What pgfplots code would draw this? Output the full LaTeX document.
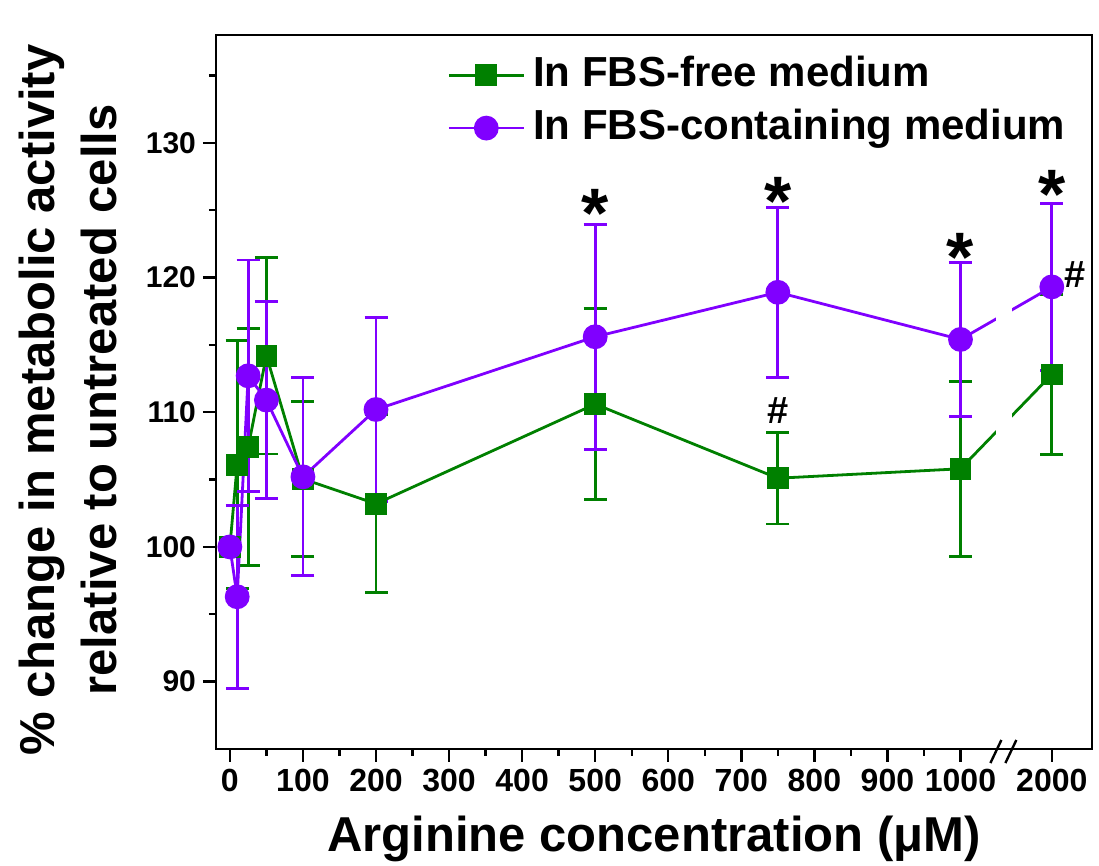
\documentclass[border=0pt]{standalone}
\usepackage{fontspec}
\setmainfont{Liberation Sans}
\usepackage{pgfplots}
\usepackage{pgfplotstable}
\pgfplotsset{compat=1.18}
\definecolor{fgreen}{RGB}{0,128,0}
\definecolor{fpurple}{RGB}{128,0,255}

% x = concentration (uM); the 2000 uM point sits after the axis break, drawn at position 1125
\pgfplotstableread{
x y e
0 100 0
10 106.1 9.2
25 107.4 8.8
50 114.2 7.3
100 105.05 5.75
200 103.2 6.6
500 110.6 7.1
750 105.1 3.4
1000 105.8 6.5
1125 112.8 5.95
}\freeT
\pgfplotstableread{
x y e
0 100 0
10 96.3 6.8
25 112.7 8.6
50 110.9 7.3
100 105.2 7.35
200 110.2 6.8
500 115.6 8.35
750 118.9 6.3
1000 115.4 5.7
1125 119.3 6.2
}\fbsT

\begin{document}
\begin{tikzpicture}
\begin{axis}[name=ax, scale only axis, width=438pt, height=357pt,
 xmin=-19, xmax=1180, ymin=85, ymax=138,
 axis line style={line width=1.2pt},
 tick style={line width=1.2pt, black},
 tick align=outside, xtick pos=left, ytick pos=left,
 major tick length=6.5pt, minor tick length=3.5pt,
 xtick={0,100,200,300,400,500,600,700,800,900,1000,1125},
 xticklabels={0,100,200,300,400,500,600,700,800,900,1000,2000},
 minor xtick={50,150,250,350,450,550,650,750,850,950},
 ytick={90,100,110,120,130}, minor ytick={95,105,115,125,135},
 /pgf/number format/assume math mode=true,
 xticklabel style={font=\fontsize{16}{16}\selectfont\bfseries},
 yticklabel style={font=\fontsize{15}{15}\selectfont\bfseries},
 xlabel={Arginine concentration (μM)},
 ylabel={\% change in metabolic activity\\relative to untreated cells},
 xlabel style={at={(axis description cs:0.5,-0.126)}, anchor=center, font=\fontsize{24.5}{29}\selectfont\bfseries},
 ylabel style={at={(axis description cs:-0.169,0.489)}, anchor=center, align=center, font=\fontsize{24.5}{31}\selectfont\bfseries},
 clip=false,
 legend cell align=left,
 legend image code/.code={\draw[mark repeat=2,mark phase=2,#1] plot coordinates {(0pt,0pt) (18.75pt,0pt) (37.5pt,0pt)};},
 legend style={at={(rel axis cs:0.2637,0.971)}, anchor=north west, draw=none, fill=none,
   inner sep=0pt, row sep=7.5pt, column sep=4pt,
   nodes={inner sep=0pt, text height=15pt, text depth=4pt},
   font=\fontsize{21}{21}\selectfont\bfseries},
]
\addplot[fgreen, line width=1.4pt, mark=square*, mark size=4.75pt,
  mark options={solid, fill=fgreen, draw=fgreen},
  error bars/.cd, y dir=both, y explicit,
  error bar style={line width=1.4pt, fgreen},
  error mark options={rotate=90, mark size=5.75pt, line width=1.4pt, fgreen}]
  table[x=x, y=y, y error=e] {\freeT};
\addlegendentry{In FBS-free medium}
\addplot[fpurple, line width=1.4pt, mark=*, mark size=5.5pt,
  mark options={solid, fill=fpurple, draw=fpurple},
  error bars/.cd, y dir=both, y explicit,
  error bar style={line width=1.4pt, fpurple},
  error mark options={rotate=90, mark size=5.75pt, line width=1.4pt, fpurple}]
  table[x=x, y=y, y error=e] {\fbsT};
\addlegendentry{In FBS-containing medium}

% gap in the lines at the axis break
\fill[white] (axis cs:1049,100) rectangle (axis cs:1071,124);
\draw[line width=1.2pt] (axis cs:1041,83.96) -- (axis cs:1056,85.67);
\draw[line width=1.2pt] (axis cs:1061.5,83.96) -- (axis cs:1076.5,85.67);

\node[anchor=north, inner sep=0pt, font=\fontsize{35}{35}\selectfont\bfseries] at (axis cs:500,126.6) {*};
\node[anchor=north, inner sep=0pt, font=\fontsize{35}{35}\selectfont\bfseries] at (axis cs:750,127.5) {*};
\node[anchor=north, inner sep=0pt, font=\fontsize{35}{35}\selectfont\bfseries] at (axis cs:1000,123.3) {*};
\node[anchor=north, inner sep=0pt, font=\fontsize{35}{35}\selectfont\bfseries] at (axis cs:1125,128.0) {*};
\node[inner sep=0pt, font=\fontsize{19}{19}\selectfont\bfseries] at (axis cs:750,110.1) {\#};
\node[inner sep=0pt, font=\fontsize{19}{19}\selectfont\bfseries] at (axis cs:1157,120.2) {\#};
\end{axis}
\pgfresetboundingbox
\path ([shift={(-108pt,-58.5pt)}]ax.south west) rectangle ([shift={(3.5pt,17.5pt)}]ax.north east);
\end{tikzpicture}
\end{document}
